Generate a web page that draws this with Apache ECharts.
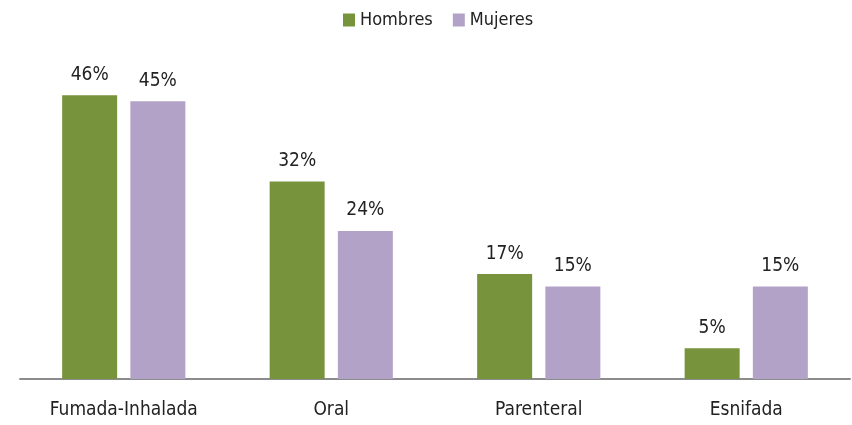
<!DOCTYPE html>
<html><head><meta charset="utf-8">
<script src="https://cdn.jsdelivr.net/npm/echarts@6/dist/echarts.min.js"></script>
<style>html,body{margin:0;padding:0;background:#fff}#c{width:852px;height:425px}</style>
</head><body><div id="c"></div>
<script>
const categories = ['Fumada-Inhalada', 'Oral', 'Parenteral', 'Esnifada'];
const hombres = [46, 32, 17, 5];
const mujeres = [45, 24, 15, 15];
const FONT = '"Liberation Sans Narrow","DejaVu Sans Condensed","Open Sans",sans-serif';
const chart = echarts.init(document.getElementById('c'));
const lbl = {show: true, position: 'top', distance: 11, formatter: '{c}%', fontFamily: FONT, fontSize: 19, color: '#222'};
chart.setOption({
  animation: false,
  legend: {top: 6, left: 338, itemWidth: 12, itemHeight: 13, itemGap: 20, icon: 'rect',
    textStyle: {fontFamily: FONT, fontSize: 18, color: '#222'}},
  grid: {left: 20, right: 2, top: 70.5, bottom: 46},
  xAxis: {type: 'category', data: categories, axisTick: {show: false},
    axisLine: {lineStyle: {color: '#8c8c8c', width: 2}},
    axisLabel: {margin: 22, fontFamily: FONT, fontSize: 19, color: '#222'}},
  yAxis: {type: 'value', min: 0, max: 50, show: false},
  series: [
    {name: 'Hombres', type: 'bar', data: hombres, barWidth: 55, barGap: '24%', itemStyle: {color: '#77933C'}, label: lbl},
    {name: 'Mujeres', type: 'bar', data: mujeres, barWidth: 55, itemStyle: {color: '#B3A2C7'}, label: lbl}
  ]
});
</script></body></html>
